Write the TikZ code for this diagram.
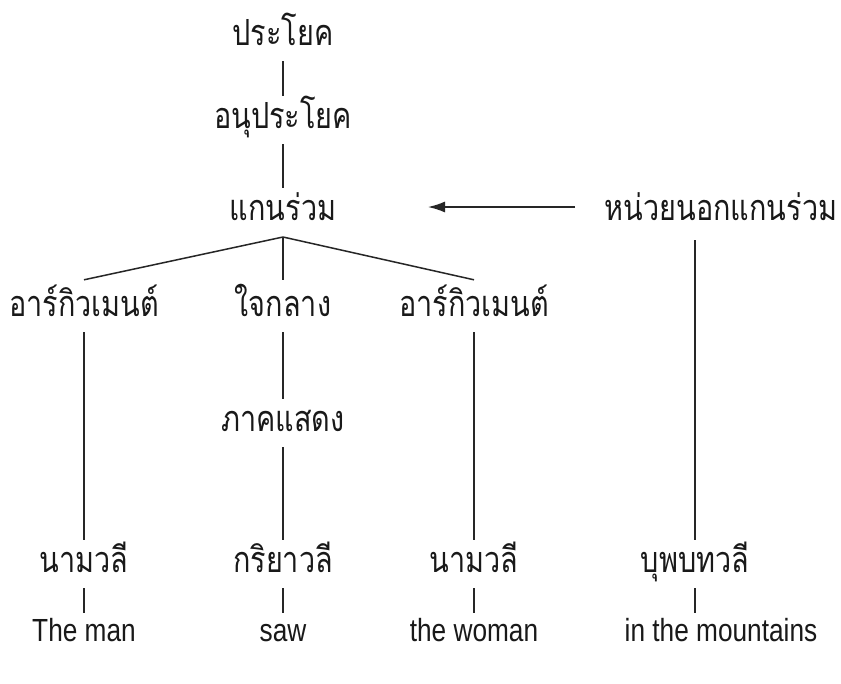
\documentclass[tikz,border=0pt]{standalone}
\usepackage{fontspec}
\newfontfamily\thaifont[Script=Thai,FakeStretch=0.8]{Loma}
\newfontfamily\engfont[FakeStretch=0.82]{Liberation Sans}
\usetikzlibrary{arrows.meta}
\begin{document}
\begin{tikzpicture}[x=1pt,y=-1pt,
  th/.style={font=\thaifont\fontsize{36}{38}\selectfont, text=black!90, inner sep=0pt, text height=24pt, text depth=8pt, minimum height=48pt, anchor=center},
  en/.style={font=\engfont\fontsize{32}{34}\selectfont, text=black!90, inner sep=0pt, text height=24pt, text depth=8pt, minimum height=40pt, anchor=center},
  ln/.style={line width=1.5pt, black!85},
]
\useasboundingbox (0,0) rectangle (841,683);
\fill[white] (0,0) rectangle (841,683);
\node[th] (s) at (283,37) {ประโยค};
\node[th] (c) at (283,120) {อนุประโยค};
\node[th] (k) at (283,212) {แกนร่วม};
\node[th] (p) at (721,212) {หน่วยนอกแกนร่วม};
\node[th] (a1) at (84,308) {อาร์กิวเมนต์};
\node[th] (h) at (283,308) {ใจกลาง};
\node[th] (a2) at (474,308) {อาร์กิวเมนต์};
\node[th] (pr) at (283,423) {ภาคแสดง};
\node[th] (n1) at (84,564) {นามวลี};
\node[th] (v) at (283,564) {กริยาวลี};
\node[th] (n2) at (474,564) {นามวลี};
\node[th] (pp) at (695,564) {บุพบทวลี};
\node[en] (w1) at (84,633) {The man};
\node[en] (w2) at (283,633) {saw};
\node[en] (w3) at (474,633) {the woman};
\node[en] (w4) at (721,633) {in the mountains};
\coordinate (ap) at (283,237);
\coordinate (ps) at (695,240);
\coordinate (as) at (575,207);
\coordinate (ae) at (428,207);
% connectors
\draw[ln] (s) -- (c);
\draw[ln] (c) -- (k);
\draw[ln] (ap) -- ([yshift=4pt]a1.north);
\draw[ln] (ap) -- ([yshift=4pt]h.north);
\draw[ln] (ap) -- ([yshift=4pt]a2.north);
\draw[ln] (h) -- (pr);
\draw[ln] (pr) -- (v);
\draw[ln] (a1) -- (n1);
\draw[ln] (a2) -- (n2);
\draw[ln] (ps) -- (pp.north);
\draw[ln] (n1) -- (w1);
\draw[ln] (v) -- (w2);
\draw[ln] (n2) -- (w3);
\draw[ln] (pp) -- (pp |- w4.north);
\draw[ln, -{Latex[length=17pt,width=11pt]}] (as) -- (ae);
\end{tikzpicture}
\end{document}
